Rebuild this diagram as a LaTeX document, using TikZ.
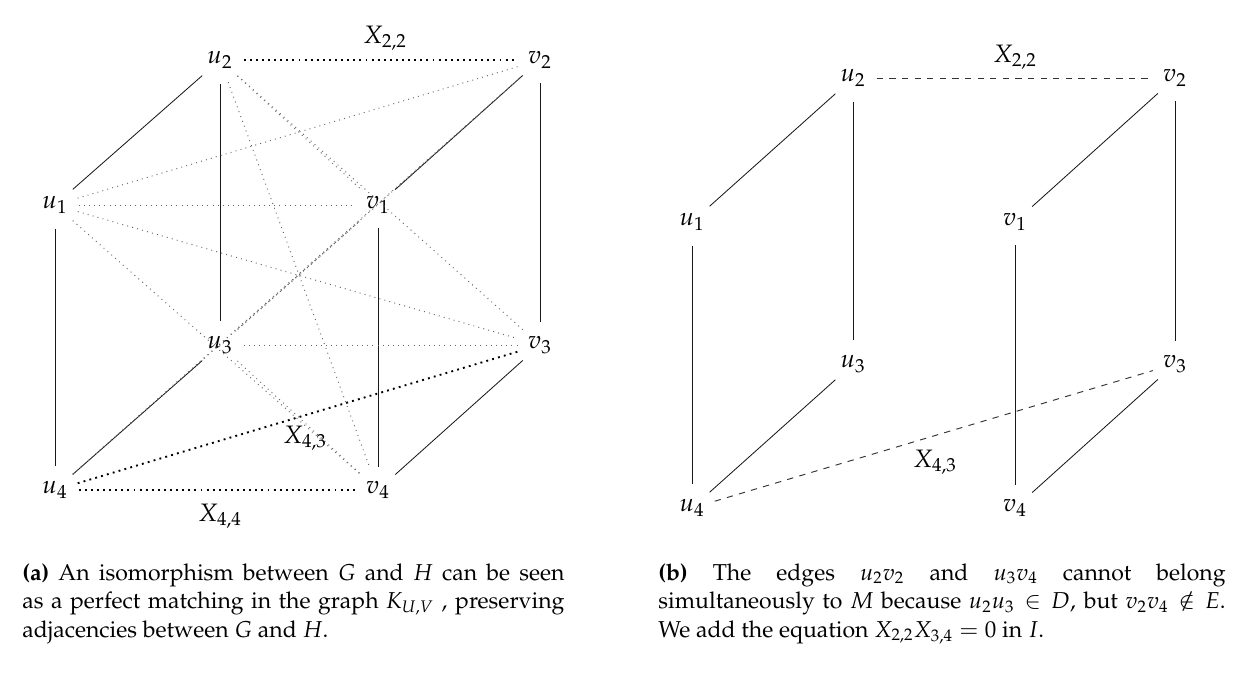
\documentclass[tikz,border=0pt]{standalone}
\usepackage[T1]{fontenc}
\usepackage{mathpazo}
\tikzset{
  vtx/.style={circle, inner sep=2.8pt, font=\fontsize{12}{14}\selectfont},
  sedge/.style={draw, black!90, line width=0.4pt},
  kedge/.style={draw, black!60, dotted, line width=0.45pt},
  medge/.style={draw, black, dotted, line width=0.9pt},
  dedge/.style={draw, black!80, dashed, line width=0.45pt},
  lab/.style={font=\fontsize{12}{14}\selectfont, inner sep=0pt},
  captext/.style={anchor=north west, inner sep=0pt, align=justify, font=\fontsize{10.95}{13.6}\selectfont}
}
\begin{document}
\begin{tikzpicture}[x=0.476pt, y=-0.476pt]
\path[use as bounding box] (0,0) rectangle (1250,695);
% ---------- left figure ----------
\node[vtx] (a1) at (55,205) {$u_1$};
\node[vtx] (a2) at (220,60) {$u_2$};
\node[vtx] (a3) at (220,345) {$u_3$};
\node[vtx] (a4) at (55,490) {$u_4$};
\node[vtx] (b1) at (378,205) {$v_1$};
\node[vtx] (b2) at (540,60) {$v_2$};
\node[vtx] (b3) at (540,345) {$v_3$};
\node[vtx] (b4) at (378,490) {$v_4$};
% solid edges
\draw[sedge] (a1) -- (a2);
\draw[sedge] (b1) -- (b2);
\draw[sedge] (a4) -- (a3);
\draw[sedge] (b4) -- (b3);
\draw[sedge] (a1) -- (a4);
\draw[sedge] (a2) -- (a3);
\draw[sedge] (b1) -- (b4);
\draw[sedge] (b2) -- (b3);
% complete bipartite (dotted)
\draw[kedge] (a1) -- (b1);
\draw[kedge] (a1) -- (b2);
\draw[kedge] (a1) -- (b3);
\draw[kedge] (a1) -- (b4);
\draw[kedge] (a2) -- (b1);
\draw[kedge] (a2) -- (b3);
\draw[kedge] (a2) -- (b4);
\draw[kedge] (a3) -- (b1);
\draw[kedge] (a3) -- (b2);
\draw[kedge] (a3) -- (b3);
\draw[kedge] (a3) -- (b4);
\draw[kedge] (a4) -- (b1);
\draw[kedge] (a4) -- (b2);
\draw[medge] (a2) -- (b2);
\draw[medge] (a4) -- (b3);
\draw[medge] (a4) -- (b4);
\node[lab] (xa22) at (385,38) {$X_{2,2}$};
\node[lab] (xa43) at (305,438) {$X_{4,3}$};
\node[lab] (xa44) at (220,516) {$X_{4,4}$};
% ---------- right figure ----------
\node[vtx] (c1) at (692,222) {$u_1$};
\node[vtx] (c2) at (853,78) {$u_2$};
\node[vtx] (c3) at (853,364) {$u_3$};
\node[vtx] (c4) at (692,508) {$u_4$};
\node[vtx] (d1) at (1015,222) {$v_1$};
\node[vtx] (d2) at (1175,78) {$v_2$};
\node[vtx] (d3) at (1175,364) {$v_3$};
\node[vtx] (d4) at (1015,508) {$v_4$};
\draw[sedge] (c1) -- (c2);
\draw[sedge] (d1) -- (d2);
\draw[sedge] (c4) -- (c3);
\draw[sedge] (d4) -- (d3);
\draw[sedge] (c1) -- (c4);
\draw[sedge] (c2) -- (c3);
\draw[sedge] (d1) -- (d4);
\draw[sedge] (d2) -- (d3);
\draw[dedge] (c2) -- (d2);
\draw[dedge] (c4) -- (d3);
\node[lab] (xb22) at (1015,57) {$X_{2,2}$};
\node[lab] (xb43) at (935,462) {$X_{4,3}$};
% ---------- captions ----------
\node[captext, text width=258pt] (capa) at (22,563) {\textbf{(a)} An isomorphism between $G$ and $H$ can be seen\linebreak as a perfect matching in the graph $K_{U,V}$ , preserving\linebreak adjacencies between $G$ and $H$.};
\node[captext, text width=270pt] (capb) at (658,563) {\textbf{(b)} The edges $u_2v_2$ and $u_3v_4$ cannot belong\linebreak simultaneously to $M$ because $u_2u_3 \in D$, but $v_2v_4 \notin E$.\linebreak We add the equation $X_{2,2}X_{3,4} = 0$ in $I$.};
\end{tikzpicture}
\end{document}
